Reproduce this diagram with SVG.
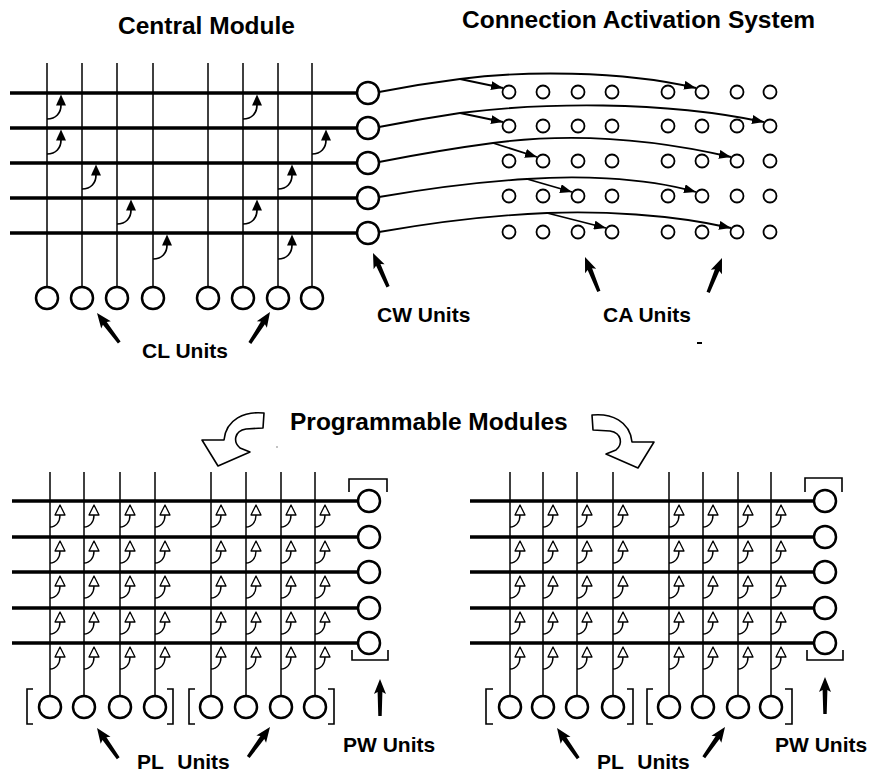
<svg xmlns="http://www.w3.org/2000/svg" xmlns:xlink="http://www.w3.org/1999/xlink" width="869" height="772" viewBox="0 0 869 772">
<style>
.hl{stroke:#000;stroke-width:3.5;fill:none}
.vl{stroke:#000;stroke-width:1.5;fill:none}
.node{fill:#fff;stroke:#000;stroke-width:2.5}
.sm{fill:#fff;stroke:#000;stroke-width:1.8}
.conn{fill:none;stroke:#000;stroke-width:1.8}
.br{fill:none;stroke:#000;stroke-width:1.6}
.t{font-family:"Liberation Sans",Arial,Helvetica,sans-serif;font-weight:bold;fill:#000}
.title{font-size:24.5px}
.lab{font-size:21px}
</style>
<defs>
<marker id="ah" viewBox="0 0 12 9" refX="12" refY="4.5" markerWidth="12" markerHeight="9" markerUnits="userSpaceOnUse" orient="auto">
<path d="M0,0 L12,4.5 L0,9 z" fill="#000"/>
</marker>
<g id="cmArrow">
<path d="M0,26 C9,26 14,20 14,12" fill="none" stroke="#000" stroke-width="1.7"/>
<polygon points="14,1.5 9,12.5 19,12.5" fill="#000"/>
</g>
<g id="pa">
<path d="M0,26 C6,26 10,21 10,14" fill="none" stroke="#000" stroke-width="1.4"/>
<polygon points="10,4 5,14 15,14" fill="#fff" stroke="#000" stroke-width="1.3" stroke-linejoin="round"/>
</g>
<polygon id="fat" points="0,0 6,15 2.4,13 1.7,37 -1.7,37 -2.4,13 -6,15" fill="#000"/>
<path id="curly" d="M264,413 C245,411 226,419 224,440 L202,440 L218,466 L250,452 L240,448 C233,442 234,431 246,429 L263,428 Z" fill="#fff" stroke="#000" stroke-width="1.6" stroke-linejoin="round"/>
</defs>
<rect width="869" height="772" fill="#fff"/>

<!-- Titles -->
<text class="t title" x="118" y="34">Central Module</text>
<text class="t title" x="462" y="28">Connection Activation System</text>
<text class="t title" x="290" y="430">Programmable Modules</text>

<!-- Central module grid -->
<g id="central-module">
<line class="hl" x1="10" y1="93" x2="357" y2="93"/>
<line class="hl" x1="10" y1="128" x2="357" y2="128"/>
<line class="hl" x1="10" y1="163" x2="357" y2="163"/>
<line class="hl" x1="10" y1="198" x2="357" y2="198"/>
<line class="hl" x1="10" y1="233" x2="357" y2="233"/>
<line class="vl" x1="47" y1="63" x2="47" y2="287"/>
<line class="vl" x1="82" y1="63" x2="82" y2="287"/>
<line class="vl" x1="117" y1="63" x2="117" y2="287"/>
<line class="vl" x1="153" y1="63" x2="153" y2="287"/>
<line class="vl" x1="208" y1="63" x2="208" y2="287"/>
<line class="vl" x1="243" y1="63" x2="243" y2="287"/>
<line class="vl" x1="278" y1="63" x2="278" y2="287"/>
<line class="vl" x1="312" y1="63" x2="312" y2="287"/>
</g>

<g id="cl-units">
<circle id="cl1" class="node" cx="47" cy="298" r="11"/>
<circle id="cl2" class="node" cx="82" cy="298" r="11"/>
<circle id="cl3" class="node" cx="117" cy="298" r="11"/>
<circle id="cl4" class="node" cx="153" cy="298" r="11"/>
<circle id="cl5" class="node" cx="208" cy="298" r="11"/>
<circle id="cl6" class="node" cx="243" cy="298" r="11"/>
<circle id="cl7" class="node" cx="278" cy="298" r="11"/>
<circle id="cl8" class="node" cx="312" cy="298" r="11"/>
</g>

<g id="cw-units">
<circle id="cw1" class="node" cx="368" cy="93" r="11"/>
<circle id="cw2" class="node" cx="368" cy="128" r="11"/>
<circle id="cw3" class="node" cx="368" cy="163" r="11"/>
<circle id="cw4" class="node" cx="368" cy="198" r="11"/>
<circle id="cw5" class="node" cx="368" cy="233" r="11"/>
</g>

<g id="ca-units">
<circle class="sm" cx="509" cy="92" r="6.5"/><circle class="sm" cx="543" cy="92" r="6.5"/><circle class="sm" cx="578" cy="92" r="6.5"/><circle class="sm" cx="612" cy="92" r="6.5"/><circle class="sm" cx="668" cy="92" r="6.5"/><circle class="sm" cx="702" cy="92" r="6.5"/><circle class="sm" cx="737" cy="92" r="6.5"/><circle class="sm" cx="770" cy="92" r="6.5"/>
<circle class="sm" cx="509" cy="126" r="6.5"/><circle class="sm" cx="543" cy="126" r="6.5"/><circle class="sm" cx="578" cy="126" r="6.5"/><circle class="sm" cx="612" cy="126" r="6.5"/><circle class="sm" cx="668" cy="126" r="6.5"/><circle class="sm" cx="702" cy="126" r="6.5"/><circle class="sm" cx="737" cy="126" r="6.5"/><circle class="sm" cx="770" cy="126" r="6.5"/>
<circle class="sm" cx="509" cy="161" r="6.5"/><circle class="sm" cx="543" cy="161" r="6.5"/><circle class="sm" cx="578" cy="161" r="6.5"/><circle class="sm" cx="612" cy="161" r="6.5"/><circle class="sm" cx="668" cy="161" r="6.5"/><circle class="sm" cx="702" cy="161" r="6.5"/><circle class="sm" cx="737" cy="161" r="6.5"/><circle class="sm" cx="770" cy="161" r="6.5"/>
<circle class="sm" cx="509" cy="196" r="6.5"/><circle class="sm" cx="543" cy="196" r="6.5"/><circle class="sm" cx="578" cy="196" r="6.5"/><circle class="sm" cx="612" cy="196" r="6.5"/><circle class="sm" cx="668" cy="196" r="6.5"/><circle class="sm" cx="702" cy="196" r="6.5"/><circle class="sm" cx="737" cy="196" r="6.5"/><circle class="sm" cx="770" cy="196" r="6.5"/>
<circle class="sm" cx="509" cy="232" r="6.5"/><circle class="sm" cx="543" cy="232" r="6.5"/><circle class="sm" cx="578" cy="232" r="6.5"/><circle class="sm" cx="612" cy="232" r="6.5"/><circle class="sm" cx="668" cy="232" r="6.5"/><circle class="sm" cx="702" cy="232" r="6.5"/><circle class="sm" cx="737" cy="232" r="6.5"/><circle class="sm" cx="770" cy="232" r="6.5"/>
</g>

<g id="connectors">
<!-- central module connection arrows -->
<use xlink:href="#cmArrow" x="47" y="93"/>
<use xlink:href="#cmArrow" x="243" y="93"/>
<use xlink:href="#cmArrow" x="47" y="128"/>
<use xlink:href="#cmArrow" x="312" y="128"/>
<use xlink:href="#cmArrow" x="82" y="163"/>
<use xlink:href="#cmArrow" x="278" y="163"/>
<use xlink:href="#cmArrow" x="117" y="198"/>
<use xlink:href="#cmArrow" x="243" y="198"/>
<use xlink:href="#cmArrow" x="153" y="233"/>
<use xlink:href="#cmArrow" x="278" y="233"/>
<!-- CW to CA connections -->
<path class="conn" d="M379,92 Q420,84 460,79 C520,71 620,70 696,88" marker-end="url(#ah)"/>
<path class="conn" d="M460,79 L503,88" marker-end="url(#ah)"/>
<path class="conn" d="M379,127 Q420,119 460,113 C540,103 660,100 764,122" marker-end="url(#ah)"/>
<path class="conn" d="M460,113 L503,122" marker-end="url(#ah)"/>
<path class="conn" d="M379,162 Q440,150 493,143 C560,134 640,136 731,157" marker-end="url(#ah)"/>
<path class="conn" d="M493,143 L537,157" marker-end="url(#ah)"/>
<path class="conn" d="M379,197 Q460,183 527,179 C570,176 640,176 696,192" marker-end="url(#ah)"/>
<path class="conn" d="M527,179 L572,192" marker-end="url(#ah)"/>
<path class="conn" d="M379,232 Q470,216 547,213 C600,211 670,214 731,228" marker-end="url(#ah)"/>
<path class="conn" d="M547,213 L606,228" marker-end="url(#ah)"/>
<!-- left programmable module connections -->
<use xlink:href="#pa" x="50" y="501"/><use xlink:href="#pa" x="84" y="501"/><use xlink:href="#pa" x="120" y="501"/><use xlink:href="#pa" x="155" y="501"/><use xlink:href="#pa" x="211" y="501"/><use xlink:href="#pa" x="246" y="501"/><use xlink:href="#pa" x="281" y="501"/><use xlink:href="#pa" x="315" y="501"/>
<use xlink:href="#pa" x="50" y="537"/><use xlink:href="#pa" x="84" y="537"/><use xlink:href="#pa" x="120" y="537"/><use xlink:href="#pa" x="155" y="537"/><use xlink:href="#pa" x="211" y="537"/><use xlink:href="#pa" x="246" y="537"/><use xlink:href="#pa" x="281" y="537"/><use xlink:href="#pa" x="315" y="537"/>
<use xlink:href="#pa" x="50" y="572"/><use xlink:href="#pa" x="84" y="572"/><use xlink:href="#pa" x="120" y="572"/><use xlink:href="#pa" x="155" y="572"/><use xlink:href="#pa" x="211" y="572"/><use xlink:href="#pa" x="246" y="572"/><use xlink:href="#pa" x="281" y="572"/><use xlink:href="#pa" x="315" y="572"/>
<use xlink:href="#pa" x="50" y="608"/><use xlink:href="#pa" x="84" y="608"/><use xlink:href="#pa" x="120" y="608"/><use xlink:href="#pa" x="155" y="608"/><use xlink:href="#pa" x="211" y="608"/><use xlink:href="#pa" x="246" y="608"/><use xlink:href="#pa" x="281" y="608"/><use xlink:href="#pa" x="315" y="608"/>
<use xlink:href="#pa" x="50" y="643"/><use xlink:href="#pa" x="84" y="643"/><use xlink:href="#pa" x="120" y="643"/><use xlink:href="#pa" x="155" y="643"/><use xlink:href="#pa" x="211" y="643"/><use xlink:href="#pa" x="246" y="643"/><use xlink:href="#pa" x="281" y="643"/><use xlink:href="#pa" x="315" y="643"/>
<!-- right programmable module connections -->
<use xlink:href="#pa" x="510" y="501"/><use xlink:href="#pa" x="543" y="501"/><use xlink:href="#pa" x="577" y="501"/><use xlink:href="#pa" x="613" y="501"/><use xlink:href="#pa" x="669" y="501"/><use xlink:href="#pa" x="703" y="501"/><use xlink:href="#pa" x="738" y="501"/><use xlink:href="#pa" x="771" y="501"/>
<use xlink:href="#pa" x="510" y="537"/><use xlink:href="#pa" x="543" y="537"/><use xlink:href="#pa" x="577" y="537"/><use xlink:href="#pa" x="613" y="537"/><use xlink:href="#pa" x="669" y="537"/><use xlink:href="#pa" x="703" y="537"/><use xlink:href="#pa" x="738" y="537"/><use xlink:href="#pa" x="771" y="537"/>
<use xlink:href="#pa" x="510" y="572"/><use xlink:href="#pa" x="543" y="572"/><use xlink:href="#pa" x="577" y="572"/><use xlink:href="#pa" x="613" y="572"/><use xlink:href="#pa" x="669" y="572"/><use xlink:href="#pa" x="703" y="572"/><use xlink:href="#pa" x="738" y="572"/><use xlink:href="#pa" x="771" y="572"/>
<use xlink:href="#pa" x="510" y="608"/><use xlink:href="#pa" x="543" y="608"/><use xlink:href="#pa" x="577" y="608"/><use xlink:href="#pa" x="613" y="608"/><use xlink:href="#pa" x="669" y="608"/><use xlink:href="#pa" x="703" y="608"/><use xlink:href="#pa" x="738" y="608"/><use xlink:href="#pa" x="771" y="608"/>
<use xlink:href="#pa" x="510" y="643"/><use xlink:href="#pa" x="543" y="643"/><use xlink:href="#pa" x="577" y="643"/><use xlink:href="#pa" x="613" y="643"/><use xlink:href="#pa" x="669" y="643"/><use xlink:href="#pa" x="703" y="643"/><use xlink:href="#pa" x="738" y="643"/><use xlink:href="#pa" x="771" y="643"/>
</g>

<!-- Left programmable module -->
<g id="prog-module-left">
<line class="hl" x1="12" y1="501" x2="358" y2="501"/>
<line class="hl" x1="12" y1="537" x2="358" y2="537"/>
<line class="hl" x1="12" y1="572" x2="358" y2="572"/>
<line class="hl" x1="12" y1="608" x2="358" y2="608"/>
<line class="hl" x1="12" y1="643" x2="358" y2="643"/>
<line class="vl" x1="50" y1="472" x2="50" y2="696"/>
<line class="vl" x1="84" y1="472" x2="84" y2="696"/>
<line class="vl" x1="120" y1="472" x2="120" y2="696"/>
<line class="vl" x1="155" y1="472" x2="155" y2="696"/>
<line class="vl" x1="211" y1="472" x2="211" y2="696"/>
<line class="vl" x1="246" y1="472" x2="246" y2="696"/>
<line class="vl" x1="281" y1="472" x2="281" y2="696"/>
<line class="vl" x1="315" y1="472" x2="315" y2="696"/>
</g>
<g id="pw-units-left">
<path class="br" d="M349,492 V479 H387 V492"/>
<path class="br" d="M352,650 V660 H388 V650"/>
<circle class="node" cx="369" cy="501" r="11"/>
<circle class="node" cx="369" cy="537" r="11"/>
<circle class="node" cx="369" cy="572" r="11"/>
<circle class="node" cx="369" cy="608" r="11"/>
<circle class="node" cx="369" cy="643" r="11"/>
</g>
<g id="pl-units-left">
<path class="br" d="M33,689 H27 V724 H33"/>
<path class="br" d="M167,689 H173 V724 H167"/>
<path class="br" d="M195,689 H189 V724 H195"/>
<path class="br" d="M328,689 H334 V724 H328"/>
<circle class="node" cx="50" cy="707" r="11"/>
<circle class="node" cx="84" cy="707" r="11"/>
<circle class="node" cx="120" cy="707" r="11"/>
<circle class="node" cx="155" cy="707" r="11"/>
<circle class="node" cx="211" cy="707" r="11"/>
<circle class="node" cx="246" cy="707" r="11"/>
<circle class="node" cx="281" cy="707" r="11"/>
<circle class="node" cx="315" cy="707" r="11"/>
</g>

<!-- Right programmable module -->
<g id="prog-module-right">
<line class="hl" x1="470" y1="501" x2="814" y2="501"/>
<line class="hl" x1="470" y1="537" x2="814" y2="537"/>
<line class="hl" x1="470" y1="572" x2="814" y2="572"/>
<line class="hl" x1="470" y1="608" x2="814" y2="608"/>
<line class="hl" x1="470" y1="643" x2="814" y2="643"/>
<line class="vl" x1="510" y1="472" x2="510" y2="696"/>
<line class="vl" x1="543" y1="472" x2="543" y2="696"/>
<line class="vl" x1="577" y1="472" x2="577" y2="696"/>
<line class="vl" x1="613" y1="472" x2="613" y2="696"/>
<line class="vl" x1="669" y1="472" x2="669" y2="696"/>
<line class="vl" x1="703" y1="472" x2="703" y2="696"/>
<line class="vl" x1="738" y1="472" x2="738" y2="696"/>
<line class="vl" x1="771" y1="472" x2="771" y2="696"/>
</g>
<g id="pw-units-right">
<path class="br" d="M805,492 V478 H842 V492"/>
<path class="br" d="M807,650 V660 H843 V650"/>
<circle class="node" cx="825" cy="501" r="11"/>
<circle class="node" cx="825" cy="537" r="11"/>
<circle class="node" cx="825" cy="572" r="11"/>
<circle class="node" cx="825" cy="608" r="11"/>
<circle class="node" cx="825" cy="643" r="11"/>
</g>
<g id="pl-units-right">
<path class="br" d="M493,689 H486 V724 H493"/>
<path class="br" d="M627,689 H633 V724 H627"/>
<path class="br" d="M653,689 H647 V724 H653"/>
<path class="br" d="M785,689 H792 V724 H785"/>
<circle class="node" cx="510" cy="707" r="11"/>
<circle class="node" cx="543" cy="707" r="11"/>
<circle class="node" cx="577" cy="707" r="11"/>
<circle class="node" cx="613" cy="707" r="11"/>
<circle class="node" cx="669" cy="707" r="11"/>
<circle class="node" cx="703" cy="707" r="11"/>
<circle class="node" cx="738" cy="707" r="11"/>
<circle class="node" cx="771" cy="707" r="11"/>
</g>

<!-- Curly arrows -->
<use xlink:href="#curly"/>
<use xlink:href="#curly" transform="translate(856,2) scale(-1,1)"/>

<!-- Pointer arrows -->
<g id="pointers">
<use xlink:href="#fat" transform="translate(97,313) rotate(-37)"/>
<use xlink:href="#fat" transform="translate(270,312) rotate(33)"/>
<use xlink:href="#fat" transform="translate(373,253) rotate(-24)"/>
<use xlink:href="#fat" transform="translate(585,257) rotate(-22)"/>
<use xlink:href="#fat" transform="translate(722,258) rotate(22)"/>
<use xlink:href="#fat" transform="translate(97,728) rotate(-35)"/>
<use xlink:href="#fat" transform="translate(270,727) rotate(36)"/>
<use xlink:href="#fat" transform="translate(380,679)"/>
<use xlink:href="#fat" transform="translate(557,728) rotate(-35)"/>
<use xlink:href="#fat" transform="translate(725,727) rotate(35)"/>
<use xlink:href="#fat" transform="translate(825,677)"/>
</g>

<!-- Labels -->
<text class="t lab" x="142" y="358">CL Units</text>
<text class="t lab" x="377" y="322">CW Units</text>
<text class="t lab" x="603" y="322">CA Units</text>
<text class="t lab" x="137" y="769">PL <tspan dx="8">Units</tspan></text>
<text class="t lab" x="597" y="769">PL <tspan dx="8">Units</tspan></text>
<text class="t lab" x="343" y="752">PW Units</text>
<text class="t lab" x="775" y="752">PW Units</text>

<!-- scan specks -->
<rect x="697" y="342" width="5" height="2" fill="#000"/>
<circle cx="277" cy="447" r="0.8" fill="#777"/>
</svg>
